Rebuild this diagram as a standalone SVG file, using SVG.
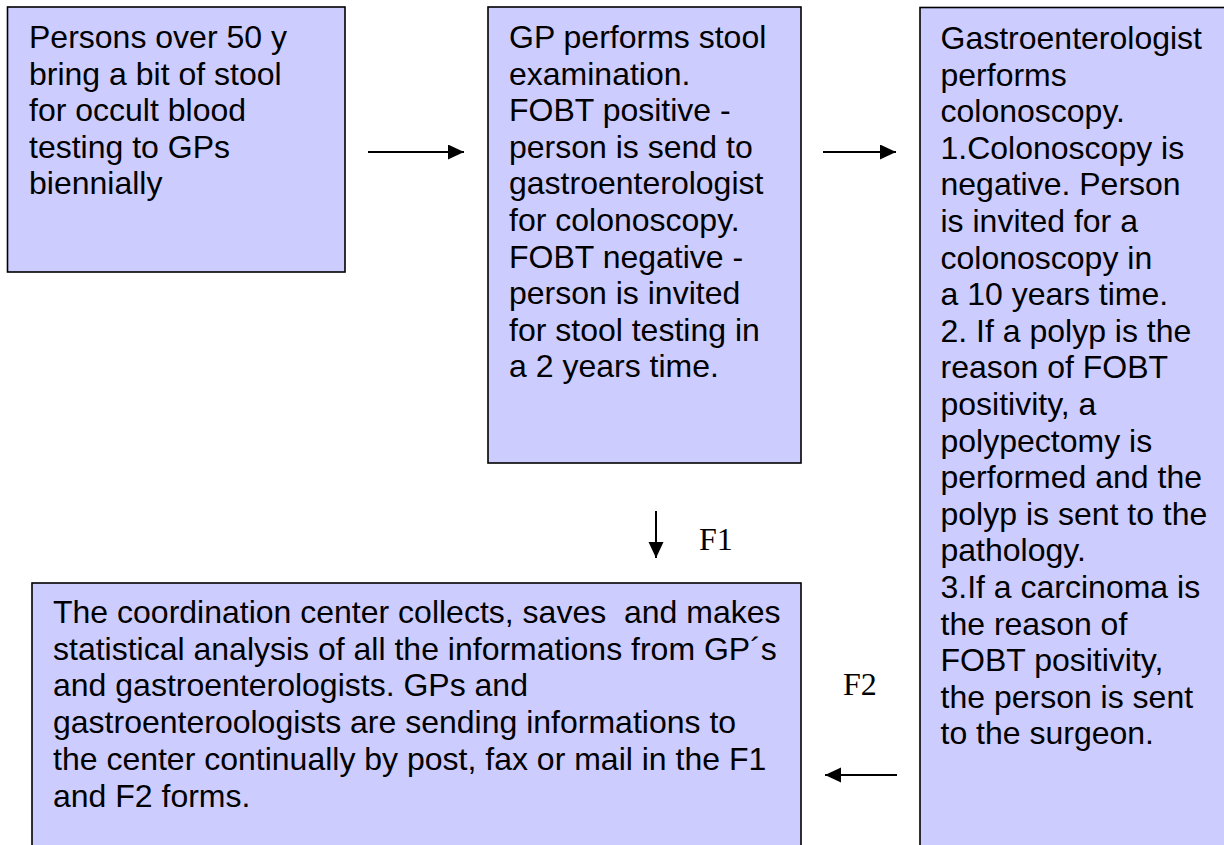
<svg xmlns="http://www.w3.org/2000/svg" width="1224" height="845" viewBox="0 0 1224 845">
<style>
.box{fill:#CCCCFF;stroke:#000;stroke-width:1.6}
.t{font-family:"Liberation Sans",Arial,sans-serif;font-size:32px;fill:#000;white-space:pre}
.lbl{font-family:"Liberation Serif","Times New Roman",serif;font-size:32px;fill:#000}
.con{stroke:#000;stroke-width:2;fill:none;marker-end:url(#ah)}
</style>
<defs>
<marker id="ah" markerUnits="userSpaceOnUse" markerWidth="17" markerHeight="16" refX="16" refY="7.5" orient="auto">
<path d="M0,0 L16,7.5 L0,15 Z" fill="#000"/>
</marker>
</defs>
<rect width="1224" height="845" fill="#fff"/>
<g id="node-persons">
<rect class="box" x="7.5" y="7" width="337.5" height="265"/>
<text class="t">
<tspan x="29" y="48">Persons over 50 y</tspan>
<tspan x="29" dy="36.6">bring a bit of stool</tspan>
<tspan x="29" dy="36.6">for occult blood</tspan>
<tspan x="29" dy="36.6">testing to GPs</tspan>
<tspan x="29" dy="36.6">biennially</tspan>
</text>
</g>
<g id="node-gp">
<rect class="box" x="488" y="7" width="313" height="456"/>
<text class="t">
<tspan x="509" y="48">GP performs stool</tspan>
<tspan x="509" dy="36.6">examination.</tspan>
<tspan x="509" dy="36.6">FOBT positive -</tspan>
<tspan x="509" dy="36.6">person is send to</tspan>
<tspan x="509" dy="36.6">gastroenterologist</tspan>
<tspan x="509" dy="36.6">for colonoscopy.</tspan>
<tspan x="509" dy="36.6">FOBT negative -</tspan>
<tspan x="509" dy="36.6">person is invited</tspan>
<tspan x="509" dy="36.6">for stool testing in</tspan>
<tspan x="509" dy="36.6">a 2 years time.</tspan>
</text>
</g>
<g id="node-gastro">
<rect class="box" x="920" y="7.5" width="320" height="850"/>
<text class="t">
<tspan x="940.5" y="49">Gastroenterologist</tspan>
<tspan x="940.5" dy="36.6">performs</tspan>
<tspan x="940.5" dy="36.6">colonoscopy.</tspan>
<tspan x="940.5" dy="36.6">1.Colonoscopy is</tspan>
<tspan x="940.5" dy="36.6">negative. Person</tspan>
<tspan x="940.5" dy="36.6">is invited for a</tspan>
<tspan x="940.5" dy="36.6">colonoscopy in</tspan>
<tspan x="940.5" dy="36.6">a 10 years time.</tspan>
<tspan x="940.5" dy="36.6">2. If a polyp is the</tspan>
<tspan x="940.5" dy="36.6">reason of FOBT</tspan>
<tspan x="940.5" dy="36.6">positivity, a</tspan>
<tspan x="940.5" dy="36.6">polypectomy is</tspan>
<tspan x="940.5" dy="36.6">performed and the</tspan>
<tspan x="940.5" dy="36.6">polyp is sent to the</tspan>
<tspan x="940.5" dy="36.6">pathology.</tspan>
<tspan x="940.5" dy="36.6">3.If a carcinoma is</tspan>
<tspan x="940.5" dy="36.6">the reason of</tspan>
<tspan x="940.5" dy="36.6">FOBT positivity,</tspan>
<tspan x="940.5" dy="36.6">the person is sent</tspan>
<tspan x="940.5" dy="36.6">to the surgeon.</tspan>
</text>
</g>
<g id="node-center">
<rect class="box" x="32" y="583" width="769" height="280"/>
<text class="t">
<tspan x="53" y="623">The coordination center collects, saves  and makes</tspan>
<tspan x="53" dy="36.7">statistical analysis of all the informations from GP´s</tspan>
<tspan x="53" dy="36.7">and gastroenterologists. GPs and</tspan>
<tspan x="53" dy="36.7">gastroenteroologists are sending informations to</tspan>
<tspan x="53" dy="36.7">the center continually by post, fax or mail in the F1</tspan>
<tspan x="53" dy="36.7">and F2 forms.</tspan>
</text>
</g>
<g id="connectors">
<line class="con" x1="368" y1="152" x2="464" y2="152"/>
<line class="con" x1="823" y1="152" x2="896" y2="152"/>
<line class="con" x1="656" y1="511" x2="656" y2="558"/>
<line class="con" x1="897" y1="775" x2="825" y2="775"/>
<text class="lbl" x="699" y="550">F1</text>
<text class="lbl" x="843" y="695">F2</text>
</g>
</svg>
